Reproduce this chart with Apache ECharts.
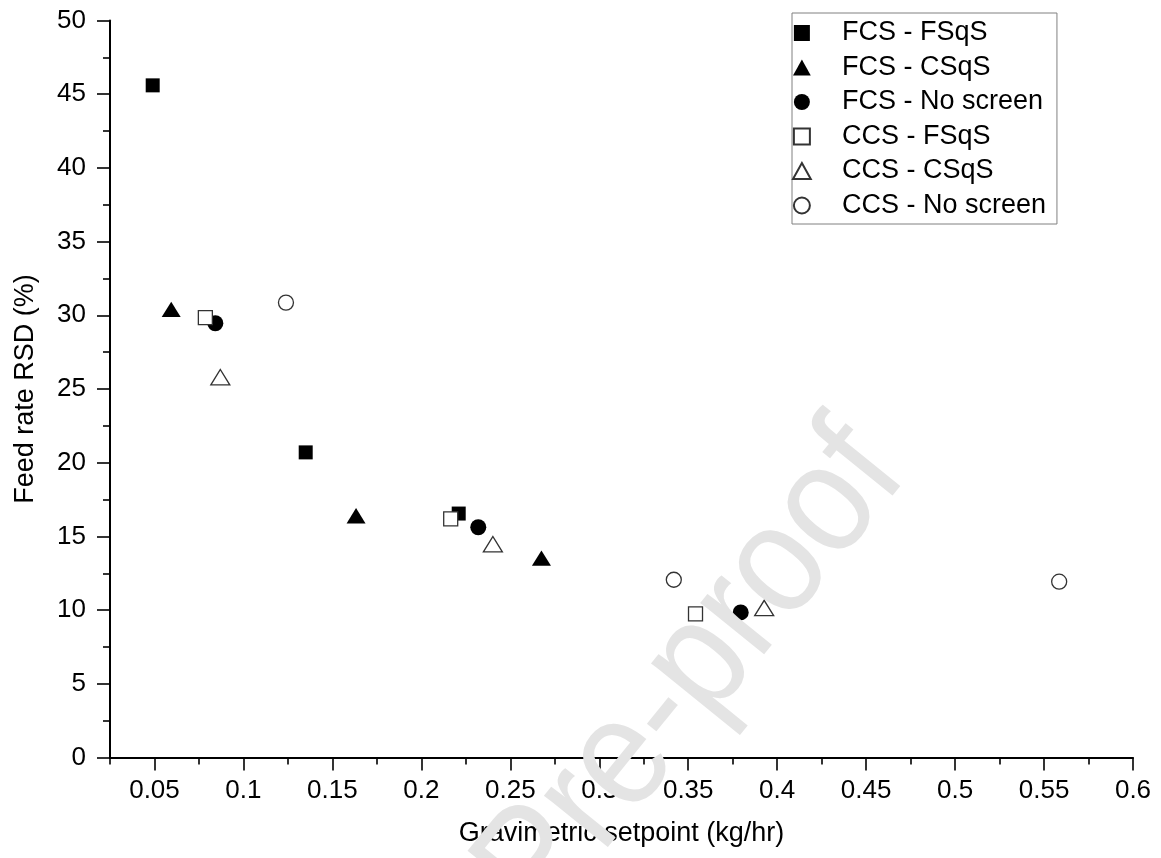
<!DOCTYPE html>
<html>
<head>
<meta charset="utf-8">
<script src="https://cdn.jsdelivr.net/npm/echarts@6/dist/echarts.min.js"></script>
<style>
html,body{margin:0;padding:0;background:#fff;}
#c{width:1161px;height:858px;}
</style>
</head>
<body>
<div id="c"></div>
<script>
// ---- data ----
const seriesNames = ['FCS - FSqS', 'FCS - CSqS', 'FCS - No screen', 'CCS - FSqS', 'CCS - CSqS', 'CCS - No screen'];
const fcsFsqsX = [0.049, 0.135, 0.221];
const fcsFsqsY = [45.6, 20.7, 16.55];
const fcsCsqsX = [0.0594, 0.1633, 0.2675];
const fcsCsqsY = [30.4, 16.4, 13.53];
const fcsNoX = [0.0842, 0.232, 0.3795];
const fcsNoY = [29.46, 15.62, 9.84];
const ccsFsqsX = [0.0786, 0.2165, 0.3541];
const ccsFsqsY = [29.84, 16.19, 9.74];
const ccsCsqsX = [0.087, 0.2402, 0.3927];
const ccsCsqsY = [25.8, 14.47, 10.14];
const ccsNoX = [0.1239, 0.3419, 0.5585];
const ccsNoY = [30.86, 12.06, 11.93];
const xMajorTicks = [0.05, 0.1, 0.15, 0.2, 0.25, 0.3, 0.35, 0.4, 0.45, 0.5, 0.55, 0.6];
const xMinorTicks = [0.025, 0.075, 0.125, 0.175, 0.225, 0.275, 0.325, 0.375, 0.425, 0.475, 0.525, 0.575];
const xTitle = 'Gravimetric setpoint (kg/hr)';
const yTitle = 'Feed rate RSD (%)';
const watermarkText = 'Pre-proof';

const FONT = '"Liberation Sans", Arial, Helvetica, sans-serif';
const pairs = (xs, ys) => xs.map((x, i) => [x, ys[i]]);

const filled = {color: '#000', borderColor: '#000', borderWidth: 0, opacity: 1};
const open = {color: '#fff', borderColor: '#333', borderWidth: 1.3, opacity: 1};
const SQUARE = 'path://M0,0H10V10H0Z';
const TRIANGLE = 'path://M5,0L10,9L0,9Z';

function sc(name, xs, ys, symbol, size, style) {
  return {
    name: name, type: 'scatter', symbol: symbol, symbolSize: size,
    symbolKeepAspect: true,
    data: pairs(xs, ys), itemStyle: style, z: 5,
    emphasis: {disabled: true}
  };
}

const chart = echarts.init(document.getElementById('c'), null, {renderer: 'canvas'});
const tickLine = {color: '#000', width: 1.6};
chart.setOption({
  animation: false,
  backgroundColor: '#fff',
  grid: {left: 110, right: 28, top: 20.5, bottom: 100.5, containLabel: false},
  legend: {
    orient: 'vertical', left: 792, top: 13,
    padding: [6.5, 11, 5, 0],
    itemWidth: 70, itemHeight: 16, itemGap: 7.5,
    symbolKeepAspect: true,
    borderColor: '#808080', borderWidth: 1, borderRadius: 0,
    backgroundColor: '#fff',
    textStyle: {fontFamily: FONT, fontSize: 27, color: '#000', lineHeight: 27},
    data: [
      {name: seriesNames[0], icon: SQUARE},
      {name: seriesNames[1], icon: TRIANGLE},
      {name: seriesNames[2], icon: 'circle'},
      {name: seriesNames[3], icon: SQUARE},
      {name: seriesNames[4], icon: TRIANGLE},
      {name: seriesNames[5], icon: 'circle'}
    ]
  },
  xAxis: [{
    type: 'value', min: 0.025, max: 0.6,
    name: xTitle, nameLocation: 'middle', nameGap: 63,
    nameTextStyle: {fontFamily: FONT, fontSize: 27, color: '#000'},
    axisLine: {show: true, onZero: false, lineStyle: {color: '#000', width: 2}},
    axisTick: {show: true, inside: false, length: 13, lineStyle: tickLine, customValues: xMajorTicks},
    axisLabel: {show: true, margin: 20, fontFamily: FONT, fontSize: 26, color: '#000', customValues: xMajorTicks},
    splitLine: {show: false}
  }, {
    type: 'value', min: 0.025, max: 0.6, position: 'bottom', offset: 0,
    axisLine: {show: false},
    axisTick: {show: true, inside: false, length: 7, lineStyle: tickLine, customValues: xMinorTicks},
    axisLabel: {show: false},
    splitLine: {show: false}
  }],
  yAxis: {
    type: 'value', min: 0, max: 50, interval: 5,
    name: yTitle, nameLocation: 'middle', nameGap: 71, nameRotate: 90,
    nameTextStyle: {fontFamily: FONT, fontSize: 27, color: '#000'},
    axisLine: {show: true, onZero: false, lineStyle: {color: '#000', width: 2}},
    axisTick: {show: true, inside: false, length: 13, lineStyle: tickLine},
    minorTick: {show: true, splitNumber: 2, length: 7, lineStyle: tickLine},
    axisLabel: {margin: 24, fontFamily: FONT, fontSize: 26, color: '#000'},
    splitLine: {show: false}
  },
  graphic: [{
    type: 'text', x: 693, y: 674, rotation: 51 * Math.PI / 180, scaleX: 0.9, scaleY: 1, z: 100, silent: true,
    style: {text: watermarkText, font: '155px ' + FONT, fill: '#e4e4e4',
            align: 'center', verticalAlign: 'middle', textAlign: 'center', textVerticalAlign: 'middle'}
  }],
  series: [
    sc(seriesNames[0], fcsFsqsX, fcsFsqsY, SQUARE, 14, filled),
    sc(seriesNames[1], fcsCsqsX, fcsCsqsY, TRIANGLE, [19, 17], filled),
    sc(seriesNames[2], fcsNoX, fcsNoY, 'circle', 16, filled),
    sc(seriesNames[3], ccsFsqsX, ccsFsqsY, SQUARE, 14, open),
    sc(seriesNames[4], ccsCsqsX, ccsCsqsY, TRIANGLE, [19, 17], open),
    sc(seriesNames[5], ccsNoX, ccsNoY, 'circle', 15, open)
  ]
});
</script>
</body>
</html>
